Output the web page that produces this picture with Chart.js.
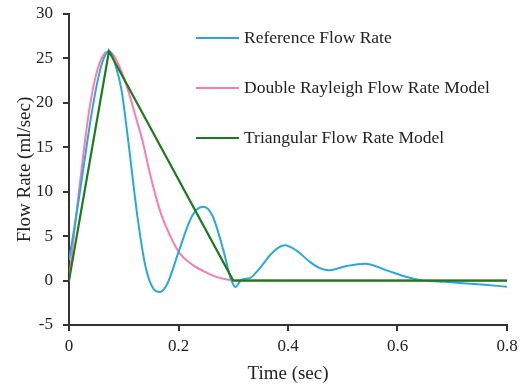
<!DOCTYPE html>
<html>
<head>
<meta charset="utf-8">
<script src="https://cdn.jsdelivr.net/npm/chart.js@4/dist/chart.umd.min.js"></script>
<style>
  html, body { margin: 0; padding: 0; background: #ffffff; }
  #wrap { width: 523px; height: 389px; }
</style>
</head>
<body>
<div id="wrap"><canvas id="c" width="523" height="389"></canvas></div>
<script>
// ---- data ----
const seriesNames = ['Reference Flow Rate', 'Double Rayleigh Flow Rate Model', 'Triangular Flow Rate Model'];

const refTime = [0, 0.01, 0.02, 0.03, 0.04, 0.05, 0.06, 0.073, 0.086, 0.096, 0.108, 0.125, 0.14, 0.155, 0.166, 0.18, 0.2, 0.225, 0.245, 0.262, 0.282, 0.295, 0.304, 0.315, 0.331, 0.343, 0.355, 0.367, 0.38, 0.394, 0.415, 0.44, 0.458, 0.474, 0.507, 0.541, 0.58, 0.617, 0.641, 0.68, 0.714, 0.76, 0.8];
const refFlow = [2.3, 6, 10, 14.2, 18.3, 21.8, 24.4, 25.8, 24, 21.4, 15.8, 7.2, 1.5, -1.0, -1.3, -0.3, 3.2, 7.3, 8.3, 7.3, 3.4, 0.3, -0.72, 0.1, 0.3, 1.0, 1.9, 2.85, 3.6, 3.97, 3.4, 2.1, 1.4, 1.15, 1.64, 1.9, 1.15, 0.4, 0.05, -0.12, -0.27, -0.48, -0.7];

const rayTime = [0, 0.012, 0.025, 0.037, 0.05, 0.062, 0.073, 0.085, 0.098, 0.108, 0.121, 0.134, 0.148, 0.166, 0.185, 0.203, 0.225, 0.251, 0.275, 0.3, 0.8];
const rayFlow = [0, 6.8, 13.6, 19.2, 23.3, 25.3, 25.8, 25.0, 23.2, 21.4, 18.6, 15.8, 12, 7.9, 5, 3.0, 1.8, 0.9, 0.3, 0.05, 0];

const triTime = [0, 0.073, 0.3, 0.8];
const triFlow = [0, 25.8, 0, 0];

const xTicks = [0, 0.2, 0.4, 0.6, 0.8];
const xTickLabels = ['0', '0.2', '0.4', '0.6', '0.8'];
const yTicks = [-5, 0, 5, 10, 15, 20, 25, 30];
const yTickLabels = ['-5', '0', '5', '10', '15', '20', '25', '30'];

const colors = ['#29A9DA', '#FF7BAC', '#1E7A1E'];

function pts(xs, ys) { return xs.map((x, i) => ({ x: x, y: ys[i] })); }

const FONT = '"Liberation Serif", "Times New Roman", serif';

const insideLegend = {
  id: 'insideLegend',
  afterDraw(chart) {
    const ctx = chart.ctx;
    const area = chart.chartArea;
    ctx.save();
    ctx.font = '17.5px ' + FONT;
    ctx.textBaseline = 'middle';
    ctx.textAlign = 'left';
    chart.data.datasets.forEach((ds, k) => {
      const y = area.top + 24 + k * 50;
      const x0 = area.left + 127;
      ctx.strokeStyle = ds.borderColor;
      ctx.lineWidth = 2;
      ctx.beginPath();
      ctx.moveTo(x0, y);
      ctx.lineTo(x0 + 43, y);
      ctx.stroke();
      ctx.fillStyle = '#222222';
      ctx.fillText(ds.label, x0 + 48, y);
    });
    ctx.restore();
  }
};

new Chart(document.getElementById('c'), {
  type: 'line',
  data: {
    datasets: [
      { label: seriesNames[0], data: pts(refTime, refFlow), borderColor: colors[0], borderWidth: 2, pointRadius: 0, cubicInterpolationMode: 'monotone', order: 1 },
      { label: seriesNames[1], data: pts(rayTime, rayFlow), borderColor: colors[1], borderWidth: 2, pointRadius: 0, cubicInterpolationMode: 'monotone', order: 2 },
      { label: seriesNames[2], data: pts(triTime, triFlow), borderColor: colors[2], borderWidth: 2.2, pointRadius: 0, tension: 0, order: 0 }
    ]
  },
  options: {
    responsive: false,
    animation: false,
    devicePixelRatio: 1,
    layout: { padding: { left: 0, top: 14, right: 16, bottom: 0 } },
    plugins: { legend: { display: false }, tooltip: { enabled: false } },
    scales: {
      x: {
        type: 'linear', min: 0, max: 0.8,
        afterFit(s) { s.height = 64; s.paddingLeft = 0; s.paddingRight = 0; },
        afterBuildTicks(s) { s.ticks = xTicks.map(v => ({ value: v })); },
        ticks: { callback: (v, i) => xTickLabels[i], color: '#222', font: { family: FONT, size: 17 }, padding: 5, maxRotation: 0 },
        grid: { drawOnChartArea: false, drawTicks: true, tickLength: 6, color: '#333', lineWidth: 2 },
        border: { display: true, color: '#333', width: 2 },
        title: { display: true, text: 'Time (sec)', color: '#222', font: { family: FONT, size: 19 }, padding: { top: 0, bottom: 4 } }
      },
      y: {
        type: 'linear', min: -5, max: 30,
        afterFit(s) { s.width = 69; s.paddingTop = 0; s.paddingBottom = 0; },
        afterBuildTicks(s) { s.ticks = yTicks.map(v => ({ value: v })); },
        ticks: { callback: (v, i) => yTickLabels[i], color: '#222', font: { family: FONT, size: 17 }, padding: 10 },
        grid: { drawOnChartArea: false, drawTicks: true, tickLength: 6, color: '#333', lineWidth: 2 },
        border: { display: true, color: '#333', width: 2 },
        title: { display: true, text: 'Flow Rate (ml/sec)', color: '#222', font: { family: FONT, size: 19 }, padding: { top: 14, bottom: 0 } }
      }
    }
  },
  plugins: [insideLegend]
});
</script>
</body>
</html>
